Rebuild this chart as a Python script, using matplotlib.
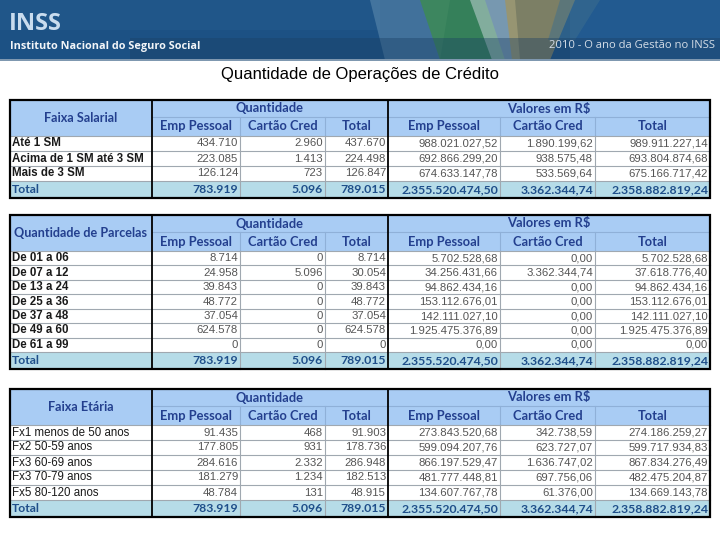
import matplotlib
matplotlib.use("Agg")
import matplotlib.pyplot as plt
from matplotlib.patches import Rectangle, Polygon
import numpy as np

# ---------------- data ----------------
title = "Quantidade de Operações de Crédito"
group_headers = ["Quantidade", "Valores em R$"]
sub_headers = ["Emp Pessoal", "Cartão Cred", "Total", "Emp Pessoal", "Cartão Cred", "Total"]

# Table 1 - Faixa Salarial
t1_title = "Faixa Salarial"
t1_labels = ["Até 1 SM", "Acima de 1 SM até 3 SM", "Mais de 3 SM"]
t1_qty_emp = [434710, 223085, 126124]
t1_qty_cart = [2960, 1413, 723]
t1_qty_tot = [437670, 224498, 126847]
t1_val_emp = [988021027.52, 692866299.20, 674633147.78]
t1_val_cart = [1890199.62, 938575.48, 533569.64]
t1_val_tot = [989911227.14, 693804874.68, 675166717.42]

# Table 2 - Quantidade de Parcelas
t2_title = "Quantidade de Parcelas"
t2_labels = ["De 01 a 06", "De 07 a 12", "De 13 a 24", "De 25 a 36", "De 37 a 48", "De 49 a 60", "De 61 a 99"]
t2_qty_emp = [8714, 24958, 39843, 48772, 37054, 624578, 0]
t2_qty_cart = [0, 5096, 0, 0, 0, 0, 0]
t2_qty_tot = [8714, 30054, 39843, 48772, 37054, 624578, 0]
t2_val_emp = [5702528.68, 34256431.66, 94862434.16, 153112676.01, 142111027.10, 1925475376.89, 0.00]
t2_val_cart = [0.00, 3362344.74, 0.00, 0.00, 0.00, 0.00, 0.00]
t2_val_tot = [5702528.68, 37618776.40, 94862434.16, 153112676.01, 142111027.10, 1925475376.89, 0.00]

# Table 3 - Faixa Etária
t3_title = "Faixa Etária"
t3_labels = ["Fx1 menos de 50 anos", "Fx2 50-59 anos", "Fx3 60-69 anos", "Fx3 70-79 anos", "Fx5 80-120 anos"]
t3_qty_emp = [91435, 177805, 284616, 181279, 48784]
t3_qty_cart = [468, 931, 2332, 1234, 131]
t3_qty_tot = [91903, 178736, 286948, 182513, 48915]
t3_val_emp = [273843520.68, 599094207.76, 866197529.47, 481777448.81, 134607767.78]
t3_val_cart = [342738.59, 623727.07, 1636747.02, 697756.06, 61376.00]
t3_val_tot = [274186259.27, 599717934.83, 867834276.49, 482475204.87, 134669143.78]

# Totals (same for all three tables)
total_label = "Total"
total_qty = [783919, 5096, 789015]
total_val = [2355520474.50, 3362344.74, 2358882819.24]

# ---------------- helpers ----------------
def fmt_int(n):
    return f"{n:,}".replace(",", ".")

def fmt_money(v):
    s = f"{v:,.2f}"
    return s.replace(",", "X").replace(".", ",").replace("X", ".")

W, H = 720, 540
fig = plt.figure(figsize=(7.2, 5.4), dpi=100)
ax = fig.add_axes([0, 0, 1, 1])
ax.set_xlim(0, W)
ax.set_ylim(H, 0)
ax.axis("off")

# ---------------- banner ----------------
ax.add_patch(Rectangle((0, 0), W, 60, facecolor="#1c5184", edgecolor="none", zorder=0))
ax.add_patch(Rectangle((0, 0), 380, 30, facecolor="#2a6496", edgecolor="none", alpha=0.3, zorder=0))
ax.add_patch(Rectangle((570, 0), 150, 60, facecolor="#2b67a0", edgecolor="none", alpha=0.45, zorder=0))
ax.add_patch(Polygon([(370, 0), (450, 0), (440, 60), (385, 60)], closed=True,
                     facecolor="#6f9ab8", edgecolor="none", alpha=0.45, zorder=0.5))
ax.add_patch(Polygon([(420, 0), (485, 0), (505, 60), (440, 60)], closed=True,
                     facecolor="#3c8c50", edgecolor="none", alpha=0.8, zorder=0.6))
ax.add_patch(Polygon([(470, 0), (515, 0), (520, 60), (492, 60)], closed=True,
                     facecolor="#c3d3d6", edgecolor="none", alpha=0.55, zorder=0.6))
ax.add_patch(Polygon([(505, 0), (575, 0), (550, 60), (512, 60)], closed=True,
                     facecolor="#a69458", edgecolor="none", alpha=0.7, zorder=0.6))
ax.add_patch(Polygon([(560, 0), (600, 0), (575, 40), (548, 40)], closed=True,
                     facecolor="#3e6f8e", edgecolor="none", alpha=0.5, zorder=0.6))
ax.add_patch(Rectangle((130, 38), W - 130, 21, facecolor="#1b4064", edgecolor="none", alpha=0.4, zorder=0.7))
ax.add_patch(Rectangle((0, 59), W, 1.5, facecolor="#7f98b0", edgecolor="none", zorder=0.8))

ax.text(9, 24.5, "INSS", fontsize=17, fontweight="bold", color="#c9dcee",
        family=["Open Sans", "DejaVu Sans"], ha="left", va="center", zorder=2)
ax.text(10, 46, "Instituto Nacional do Seguro Social", fontsize=7.8, fontweight="bold", color="#f2f5f8",
        family=["Open Sans", "DejaVu Sans"], ha="left", va="center", zorder=2)
ax.text(715, 46, "2010 - O ano da Gestão no INSS", fontsize=8.1, color="#d4dde7",
        family=["Open Sans", "DejaVu Sans"], ha="right", va="center", zorder=2)

# ---------------- title ----------------
ax.text(360, 74, title, fontsize=12, color="black", family=["Liberation Sans", "DejaVu Sans"],
        ha="center", va="center")

# ---------------- tables ----------------
X = [10, 152, 240, 325, 388, 500, 595, 710]
HEADER_BG = "#a9ccf4"
TOTAL_BG = "#b6dce8"
HEAD_TXT = "#233f8e"
TOTAL_TXT = "#1f4f8a"
GRID = "#a0a8b0"
HEAD_GRID = "#8fb0d8"
hfont = ["Lato", "DejaVu Sans"]
dfont = ["Liberation Sans", "DejaVu Sans"]


def draw_table(top, head_title, labels, cols, row_h, label_bold=True, total_h=17):
    h1 = 17
    h2 = 19
    data_top = top + h1 + h2
    n = len(labels)
    tot_top = data_top + n * row_h
    bottom = tot_top + total_h
    left, right = X[0], X[-1]
    ax.add_patch(Rectangle((left, top), right - left, h1 + h2, facecolor=HEADER_BG, edgecolor="none", zorder=1))
    ax.add_patch(Rectangle((left, data_top), right - left, n * row_h, facecolor="white", edgecolor="none", zorder=1))
    ax.add_patch(Rectangle((left, tot_top), right - left, total_h, facecolor=TOTAL_BG, edgecolor="none", zorder=1))
    ax.plot([X[1], right], [top + h1, top + h1], color=HEAD_GRID, lw=0.8, zorder=2)
    for xi in X[2:-1]:
        if xi == X[4]:
            continue
        ax.plot([xi, xi], [top + h1, data_top], color=HEAD_GRID, lw=0.8, zorder=2)
    ax.plot([left, right], [data_top, data_top], color=GRID, lw=0.8, zorder=2)
    for i in range(1, n + 1):
        y = data_top + i * row_h
        ax.plot([left, right], [y, y], color=GRID, lw=0.8, zorder=2)
    for xi in X[2:-1]:
        if xi == X[4]:
            continue
        ax.plot([xi, xi], [data_top, bottom], color=GRID, lw=0.8, zorder=2)
    for xi in (X[1], X[4]):
        ax.plot([xi, xi], [top, bottom], color="black", lw=1.3, zorder=3)
    ax.add_patch(Rectangle((left, top), right - left, bottom - top, facecolor="none",
                           edgecolor="black", lw=1.6, zorder=4))
    hs = 9.3
    ax.text((X[0] + X[1]) / 2, top + (h1 + h2) / 2, head_title, fontsize=hs - 0.2, fontweight="bold",
            color=HEAD_TXT, family=hfont, ha="center", va="center", zorder=5)
    ax.text((X[1] + X[4]) / 2, top + h1 / 2, group_headers[0], fontsize=hs, fontweight="bold",
            color=HEAD_TXT, family=hfont, ha="center", va="center", zorder=5)
    ax.text((X[4] + X[7]) / 2, top + h1 / 2, group_headers[1], fontsize=hs, fontweight="bold",
            color=HEAD_TXT, family=hfont, ha="center", va="center", zorder=5)
    for j, sh in enumerate(sub_headers):
        ax.text((X[j + 1] + X[j + 2]) / 2, top + h1 + h2 / 2, sh, fontsize=hs, fontweight="bold",
                color=HEAD_TXT, family=hfont, ha="center", va="center", zorder=5)
    for i, lab in enumerate(labels):
        yc = data_top + (i + 0.5) * row_h
        ax.text(X[0] + 2, yc, lab, fontsize=8.3, fontweight="bold" if label_bold else "normal",
                color="#1a1a1a", family=dfont, ha="left", va="center", zorder=5)
        for j, col in enumerate(cols):
            v = col[i]
            s = fmt_int(v) if j < 3 else fmt_money(v)
            ax.text(X[j + 2] - 2, yc, s, fontsize=8.2, color="#555555", family=dfont,
                    ha="right", va="center", zorder=5)
    yc = tot_top + total_h / 2
    ts = 8.8
    ax.text(X[0] + 2, yc, total_label, fontsize=ts, fontweight="bold", color=TOTAL_TXT,
            family=hfont, ha="left", va="center", zorder=5)
    tvals = [fmt_int(v) for v in total_qty] + [fmt_money(v) for v in total_val]
    for j, s in enumerate(tvals):
        ax.text(X[j + 2] - 2, yc, s, fontsize=ts, fontweight="bold", color=TOTAL_TXT,
                family=hfont, ha="right", va="center", zorder=5)


draw_table(100, t1_title, t1_labels,
           [t1_qty_emp, t1_qty_cart, t1_qty_tot, t1_val_emp, t1_val_cart, t1_val_tot], 15)
draw_table(215, t2_title, t2_labels,
           [t2_qty_emp, t2_qty_cart, t2_qty_tot, t2_val_emp, t2_val_cart, t2_val_tot], 14.45)
draw_table(389, t3_title, t3_labels,
           [t3_qty_emp, t3_qty_cart, t3_qty_tot, t3_val_emp, t3_val_cart, t3_val_tot], 15,
           label_bold=False)

fig.savefig("out.png", dpi=100)
